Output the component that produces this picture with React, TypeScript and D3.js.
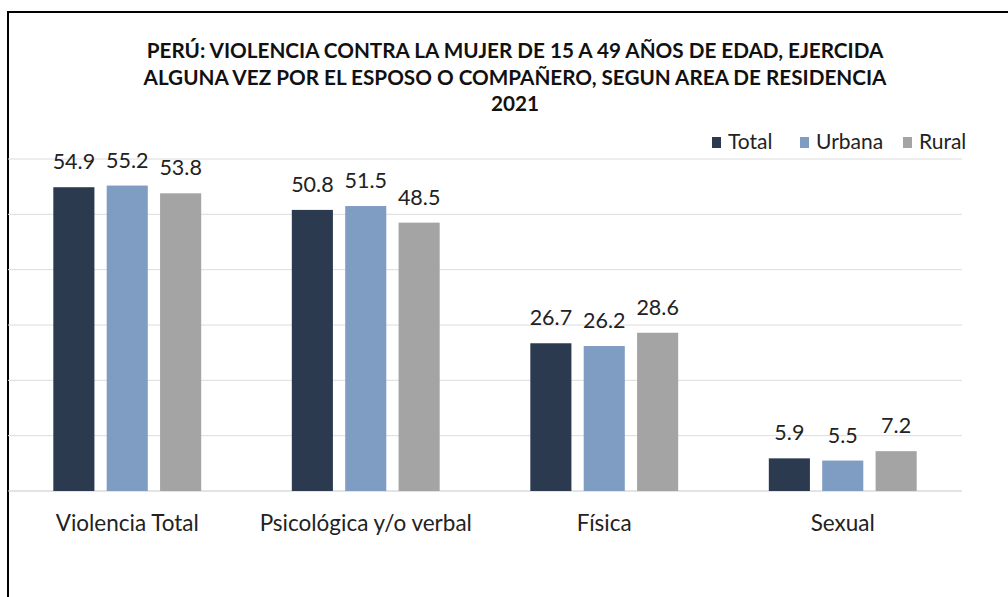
import React from "react";
import * as d3 from "d3";

const categories = ["Violencia Total", "Psicológica y/o verbal", "Física", "Sexual"];
const series = ["Total", "Urbana", "Rural"];
const totalValues = [54.9, 50.8, 26.7, 5.9];
const urbanaValues = [55.2, 51.5, 26.2, 5.5];
const ruralValues = [53.8, 48.5, 28.6, 7.2];
const yTicks = [10, 20, 30, 40, 50, 60];
const titleLines = [
  "PERÚ: VIOLENCIA CONTRA LA MUJER DE 15 A 49 AÑOS DE EDAD, EJERCIDA",
  "ALGUNA VEZ POR EL ESPOSO O COMPAÑERO, SEGUN AREA DE RESIDENCIA",
  "2021",
];
const colors = ["#2c3a50", "#7f9cc2", "#a4a4a4"];

export default function App() {
  const W = 1008;
  const H = 597;
  const left = 8;
  const right = 962;
  const base = 491;
  const values = [totalValues, urbanaValues, ruralValues];

  const y = d3.scaleLinear().domain([0, 60]).range([base, 159]);
  const x0 = d3.scaleBand<string>().domain(categories).range([left, right]).paddingInner(0.38).paddingOuter(0.19);
  const x1 = d3.scaleBand<string>().domain(series).range([0, x0.bandwidth()]).paddingInner(0.23);

  const font = "Lato, 'Open Sans', sans-serif";
  const legendX = [712, 800, 903];

  return (
    <svg width={W} height={H} style={{ position: "absolute", left: 0, top: 0, background: "#fff" }}>
      <rect x={0} y={0} width={W} height={H} fill="#fff" />
      <line x1={7} x2={W} y1={12} y2={12} stroke="#000" strokeWidth={2} />
      <line x1={8} x2={8} y1={11} y2={H} stroke="#000" strokeWidth={2} />

      {yTicks.map((t) => (
        <line key={t} x1={left} x2={right} y1={y(t)} y2={y(t)} stroke="#dcdcdc" strokeWidth={1} />
      ))}
      <line x1={left} x2={right} y1={base} y2={base} stroke="#c8c8c8" strokeWidth={1} />

      {titleLines.map((t, i) => (
        <text key={i} x={515} y={58 + i * 26.5} textAnchor="middle" fontFamily={font} fontWeight="bold" fontSize={20.7} fill="#111">
          {t}
        </text>
      ))}

      {series.map((s, i) => (
        <g key={s}>
          <rect x={legendX[i]} y={137} width={9} height={11} fill={colors[i]} />
          <text x={legendX[i] + 16} y={149} fontFamily={font} fontSize={21} fill="#222">
            {s}
          </text>
        </g>
      ))}

      {categories.map((c, ci) => (
        <g key={c} transform={`translate(${x0(c)},0)`}>
          {series.map((s, si) => {
            const v = values[si][ci];
            const bx = x1(s) as number;
            return (
              <g key={s}>
                <rect x={bx} y={y(v)} width={x1.bandwidth()} height={base - y(v)} fill={colors[si]} />
                <text x={bx + x1.bandwidth() / 2} y={y(v) - 18} textAnchor="middle" fontFamily={font} fontSize={21.5} fill="#222">
                  {v.toFixed(1)}
                </text>
              </g>
            );
          })}
          <text x={x0.bandwidth() / 2} y={531} textAnchor="middle" fontFamily={font} fontSize={22.5} fill="#222">
            {c}
          </text>
        </g>
      ))}
    </svg>
  );
}
